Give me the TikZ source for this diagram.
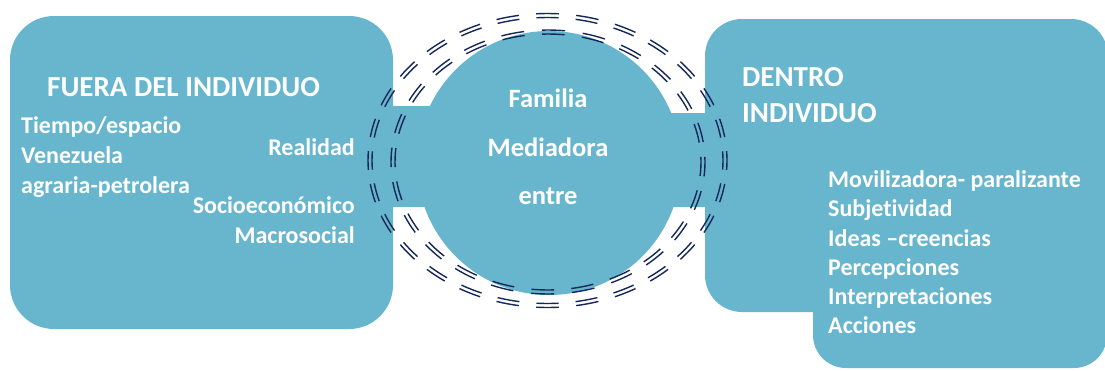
\documentclass[tikz,border=0pt]{standalone}
\usepackage{fontspec}
\setmainfont{Carlito}[Ligatures={NoCommon,NoContextual}]
\definecolor{boxblue}{RGB}{103,182,206}
\definecolor{navy}{RGB}{22,40,90}
\begin{document}
\begin{tikzpicture}[x=1pt,y=-1pt,
  lbl/.style={text=white,font=\bfseries\fontsize{24}{29}\selectfont,inner sep=0pt},
  mid/.style={text=white,font=\bfseries\fontsize{26.5}{30}\selectfont,inner sep=0pt},
  head/.style={text=white,font=\bfseries\fontsize{29}{36}\selectfont,inner sep=0pt},
  ringline/.style={draw=navy,line width=1.4pt}]
\useasboundingbox (0,0) rectangle (1105,370);
% left box
\fill[boxblue, rounded corners=44pt] (10,16) rectangle (393,329);
% connecting bands
\fill[boxblue] (385,106) rectangle (450,207);
\fill[boxblue] (650,113) rectangle (712,207);
% central circle
\fill[boxblue] (549,163) circle[radius=132];
% right shape
\fill[boxblue, rounded corners=37pt] (705,19) rectangle (1108,312);
\fill[boxblue, rounded corners=33pt] (813,250) rectangle (1107,368);
% dashed double rings
\coordinate (co) at (547.5,160.5);
\coordinate (ci) at (548,162);
\foreach \i in {0,...,27}{
  \pgfmathsetmacro\a{\i*360/28-3.65}
  \draw[ringline] (co) ++(\a:175.5 and 143) arc[start angle=\a, delta angle=7.3, x radius=175.5, y radius=143];
  \draw[ringline] (co) ++(\a:179.5 and 147) arc[start angle=\a, delta angle=7.3, x radius=179.5, y radius=147];
}
\foreach \i in {0,...,23}{
  \pgfmathsetmacro\a{\i*360/24-2.25}
  \draw[ringline] (ci) ++(\a:153 and 128) arc[start angle=\a, delta angle=8.5, x radius=153, y radius=128];
  \draw[ringline] (ci) ++(\a:157 and 132) arc[start angle=\a, delta angle=8.5, x radius=157, y radius=132];
}
% left texts
\node[head, anchor=base west] (fuera) at (47,96) {FUERA DEL INDIVIDUO};
\node[lbl, anchor=base west] (t1) at (21,133) {Tiempo/espacio};
\node[lbl, anchor=base west] (t2) at (21,163) {Venezuela};
\node[lbl, anchor=base west] (t3) at (21,193) {agraria-petrolera};
\node[lbl, anchor=base east] (r1) at (355,155) {Realidad};
\node[lbl, anchor=base east] (r2) at (355,213) {Socioeconómico};
\node[lbl, anchor=base east] (r3) at (355,243) {Macrosocial};
% centre texts
\node[mid, anchor=base] (f1) at (548,107) {Familia};
\node[mid, anchor=base] (f2) at (548,156) {Mediadora};
\node[mid, anchor=base] (f3) at (548,204) {entre};
% right texts
\node[head, anchor=base west] (d1) at (742,86) {DENTRO};
\node[head, anchor=base west] (d2) at (742,122) {INDIVIDUO};
\node[lbl, anchor=base west] (i1) at (828,187) {Movilizadora- paralizante};
\node[lbl, anchor=base west] (i2) at (828,216) {Subjetividad};
\node[lbl, anchor=base west] (i3) at (828,246) {Ideas –creencias};
\node[lbl, anchor=base west] (i4) at (828,275) {Percepciones};
\node[lbl, anchor=base west] (i5) at (828,304) {Interpretaciones};
\node[lbl, anchor=base west] (i6) at (828,333) {Acciones};
\end{tikzpicture}
\end{document}
